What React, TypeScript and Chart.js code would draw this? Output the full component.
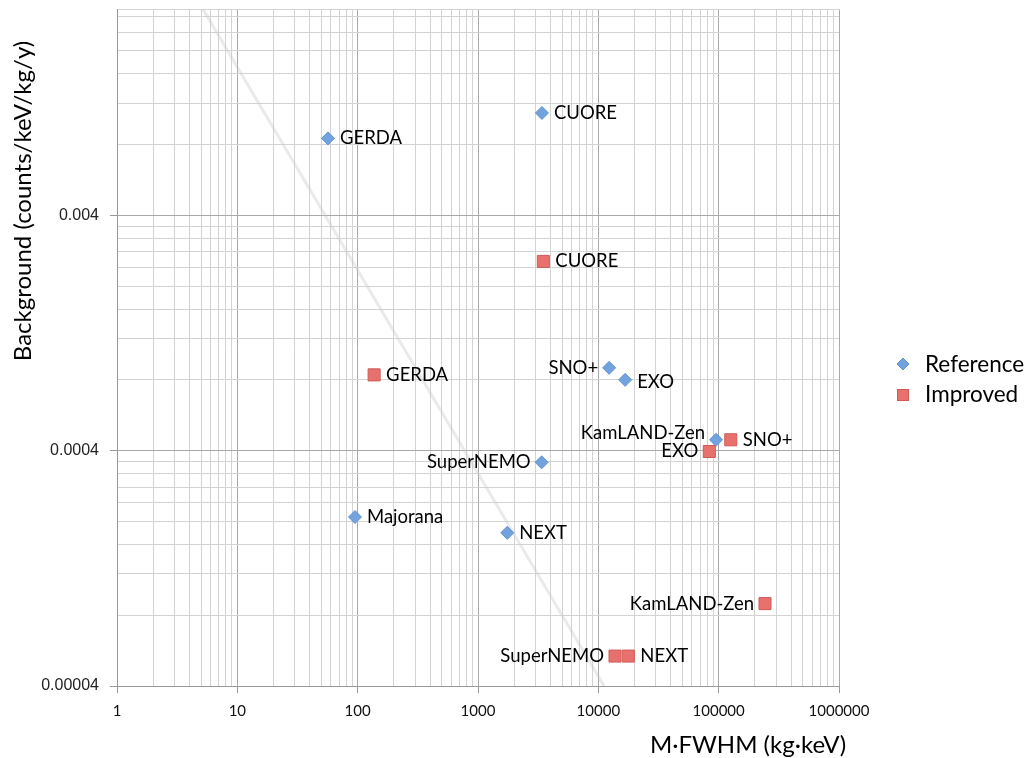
import React, { useEffect, useRef } from 'react';
import { Chart, registerables } from 'chart.js';

Chart.register(...registerables);

// ---------- data ----------
const referenceNames = ['GERDA', 'CUORE', 'SNO+', 'EXO', 'KamLAND-Zen', 'SuperNEMO', 'Majorana', 'NEXT'];
const referenceX = [56.7, 3400, 12300, 16700, 95100, 3380, 95, 1750];
const referenceY = [0.0085, 0.0109, 0.0009, 0.0008, 0.000445, 0.000357, 0.000209, 0.000179];

const improvedNames = ['CUORE', 'GERDA', 'SNO+', 'EXO', 'KamLAND-Zen', 'SuperNEMO', 'NEXT'];
const improvedX = [3490, 137, 126000, 83600, 242700, 13760, 17750];
const improvedY = [0.00255, 0.00084, 0.000445, 0.000397, 0.0000896, 0.0000536, 0.0000536];

const trendX = [5.2, 11150];
const trendY = [0.03, 0.00004];

const xTickLabels = ['1', '10', '100', '1000', '10000', '100000', '1000000'];
const yTickLabels = ['0.00004', '0.0004', '0.004'];

const seriesNames = ['Reference', 'Improved'];
const xTitle = 'M·FWHM (kg·keV)';
const yTitle = 'Background (counts/keV/kg/y)';

// label placement (presentation)
const referenceLabelSide = ['r', 'r', 'l', 'r', 'l', 'l', 'r', 'r'];
const referenceLabelDy = [0, 0, 0, 2, -7, 0, 0, 0];
const improvedLabelSide = ['r', 'r', 'r', 'l', 'l', 'l', 'r'];
const improvedLabelDy = [0, 0, 0, 0, 0, 0, 0];

// axis range
const X_MIN = 1;
const X_MAX = 1000000;
const Y_BASE = 0.00004;
const Y_MAX = 0.03;

const FONT = 'Lato, "Open Sans", sans-serif';

function isPow10(r: number) {
  const l = Math.log10(r);
  return Math.abs(l - Math.round(l)) < 1e-6;
}

function buildXTicks() {
  const t: number[] = [];
  for (let d = 0; d < xTickLabels.length - 1; d++) {
    for (let k = 1; k <= 9; k++) t.push(Number((k * Math.pow(10, d)).toPrecision(8)));
  }
  t.push(X_MAX);
  return t;
}

function buildYTicks() {
  const t: number[] = [];
  for (let d = 0; d < 3; d++) {
    for (let k = 1; k <= 9; k++) {
      const v = Number((k * Y_BASE * Math.pow(10, d)).toPrecision(8));
      if (v < Y_MAX) t.push(v);
    }
  }
  t.push(Y_MAX);
  return t;
}

const BLUE_FILL = '#73a3de';
const BLUE_BORDER = '#5f92d2';
const RED_FILL = '#e8716e';
const RED_BORDER = '#cf5a56';

function drawDiamond(ctx: CanvasRenderingContext2D, x: number, y: number, r: number) {
  ctx.beginPath();
  ctx.moveTo(x, y - r);
  ctx.lineTo(x + r, y);
  ctx.lineTo(x, y + r);
  ctx.lineTo(x - r, y);
  ctx.closePath();
  ctx.fillStyle = BLUE_FILL;
  ctx.strokeStyle = BLUE_BORDER;
  ctx.lineWidth = 1;
  ctx.fill();
  ctx.stroke();
}

function drawSquare(ctx: CanvasRenderingContext2D, x: number, y: number, s: number) {
  ctx.fillStyle = RED_FILL;
  ctx.strokeStyle = RED_BORDER;
  ctx.lineWidth = 1;
  ctx.fillRect(x - s / 2, y - s / 2, s, s);
  ctx.strokeRect(x - s / 2, y - s / 2, s, s);
}

const decorPlugin = {
  id: 'decor',
  afterDatasetsDraw(chart: any) {
    const ctx: CanvasRenderingContext2D = chart.ctx;
    ctx.save();
    ctx.font = `18.5px ${FONT}`;
    ctx.fillStyle = '#000';
    ctx.textBaseline = 'middle';
    const groups = [
      { idx: 1, names: referenceNames, side: referenceLabelSide, dy: referenceLabelDy },
      { idx: 2, names: improvedNames, side: improvedLabelSide, dy: improvedLabelDy },
    ];
    groups.forEach((g) => {
      const meta = chart.getDatasetMeta(g.idx);
      meta.data.forEach((el: any, i: number) => {
        const right = g.side[i] === 'r';
        ctx.textAlign = right ? 'left' : 'right';
        ctx.fillText(g.names[i], el.x + (right ? 12 : -11), el.y + g.dy[i]);
      });
    });
    ctx.restore();
  },
  afterDraw(chart: any) {
    const ctx: CanvasRenderingContext2D = chart.ctx;
    const area = chart.chartArea;
    ctx.save();
    ctx.fillStyle = '#000';
    // x title
    ctx.font = `24px ${FONT}`;
    ctx.textAlign = 'center';
    ctx.textBaseline = 'middle';
    ctx.fillText(xTitle, 748, 745);
    // y title
    ctx.save();
    ctx.translate(23, 201);
    ctx.rotate(-Math.PI / 2);
    ctx.fillText(yTitle, 0, 0);
    ctx.restore();
    // legend
    const lx = area.right + 64;
    drawDiamond(ctx, lx, 364, 6);
    drawSquare(ctx, lx, 395, 11);
    ctx.font = `22.5px ${FONT}`;
    ctx.textAlign = 'left';
    ctx.fillStyle = '#000';
    ctx.fillText(seriesNames[0], lx + 22, 365);
    ctx.fillText(seriesNames[1], lx + 22, 395);
    ctx.restore();
  },
};

export default function App() {
  const canvasRef = useRef<HTMLCanvasElement | null>(null);

  useEffect(() => {
    if (!canvasRef.current) return;
    const xTicks = buildXTicks();
    const yTicks = buildYTicks();

    const chart = new Chart(canvasRef.current, {
      type: 'scatter',
      data: {
        datasets: [
          {
            label: 'trend',
            data: trendX.map((x, i) => ({ x, y: trendY[i] })),
            showLine: true,
            borderColor: 'rgba(200,200,200,0.38)',
            borderWidth: 3,
            pointRadius: 0,
            order: 3,
          } as any,
          {
            label: seriesNames[0],
            data: referenceX.map((x, i) => ({ x, y: referenceY[i] })),
            pointStyle: 'rectRot',
            pointRadius: 6.5,
            pointHoverRadius: 6.5,
            backgroundColor: BLUE_FILL,
            borderColor: BLUE_BORDER,
            borderWidth: 1,
            order: 1,
          },
          {
            label: seriesNames[1],
            data: improvedX.map((x, i) => ({ x, y: improvedY[i] })),
            pointStyle: 'rect',
            pointRadius: 8.5,
            pointHoverRadius: 8.5,
            backgroundColor: RED_FILL,
            borderColor: RED_BORDER,
            borderWidth: 1,
            order: 2,
          },
        ],
      },
      options: {
        responsive: false,
        animation: false,
        devicePixelRatio: 1,
        layout: { padding: { top: 8, right: 188, left: 0, bottom: 0 } },
        plugins: {
          legend: { display: false },
          tooltip: { enabled: false },
        },
        scales: {
          x: {
            type: 'logarithmic',
            min: X_MIN,
            max: X_MAX,
            afterBuildTicks: (scale: any) => {
              scale.ticks = xTicks.map((v) => ({ value: v }));
            },
            afterFit: (scale: any) => {
              scale.height = 72;
              scale.paddingLeft = 0;
              scale.paddingRight = 0;
            },
            ticks: {
              autoSkip: false,
              maxRotation: 0,
              minRotation: 0,
              padding: 9,
              color: '#111',
              font: { family: FONT, size: 15 },
              callback: (value: any) => {
                const v = Number(value);
                if (!isPow10(v)) return '';
                return xTickLabels[Math.round(Math.log10(v))] ?? '';
              },
            },
            grid: {
              color: (c: any) => (c.tick && isPow10(c.tick.value) ? '#a9a9a9' : '#d3d3d3'),
              tickColor: (c: any) => (c.tick && isPow10(c.tick.value) ? '#999' : 'rgba(0,0,0,0)'),
              tickLength: 7,
              lineWidth: 1,
            },
            border: { display: true, color: '#999', width: 1 },
          },
          y: {
            type: 'logarithmic',
            min: Y_BASE,
            max: Y_MAX,
            afterBuildTicks: (scale: any) => {
              scale.ticks = yTicks.map((v) => ({ value: v }));
            },
            afterFit: (scale: any) => {
              scale.width = 117;
              scale.paddingTop = 0;
              scale.paddingBottom = 0;
            },
            ticks: {
              autoSkip: false,
              padding: 11,
              color: '#222',
              font: { family: '"Liberation Sans", Arial, sans-serif', size: 16 },
              callback: (value: any) => {
                const r = Number(value) / Y_BASE;
                if (!isPow10(r)) return '';
                return yTickLabels[Math.round(Math.log10(r))] ?? '';
              },
            },
            grid: {
              color: (c: any) => (c.tick && isPow10(c.tick.value / Y_BASE) ? '#a9a9a9' : '#d3d3d3'),
              tickColor: (c: any) => (c.tick && isPow10(c.tick.value / Y_BASE) ? '#999' : 'rgba(0,0,0,0)'),
              tickLength: 7,
              lineWidth: 1,
            },
            border: { display: true, color: '#999', width: 1 },
          },
        },
      } as any,
      plugins: [decorPlugin],
    });

    return () => chart.destroy();
  }, []);

  return (
    <div style={{ position: 'absolute', left: 0, top: 0, width: 1027, height: 758, background: '#fff' }}>
      <canvas ref={canvasRef} width={1027} height={758} style={{ width: 1027, height: 758, display: 'block' }} />
    </div>
  );
}
